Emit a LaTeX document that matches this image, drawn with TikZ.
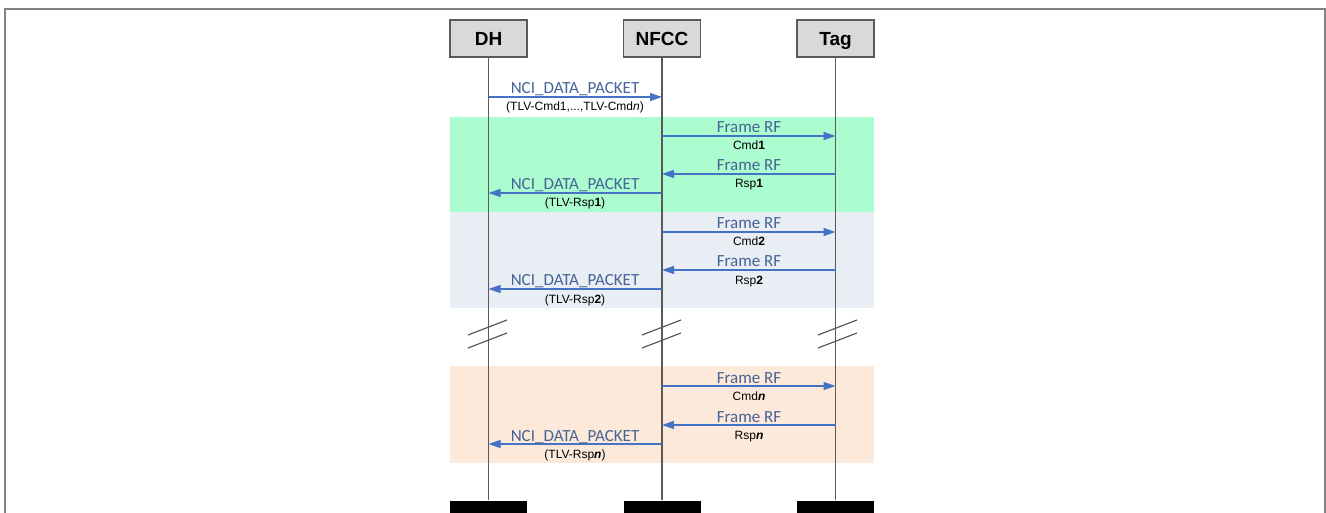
\documentclass[tikz,border=0pt]{standalone}
\usepackage{fontspec}
\setmainfont{Liberation Sans}
\newfontfamily\calibrifont{Carlito}
\usetikzlibrary{arrows.meta}
\definecolor{arrowblue}{RGB}{68,114,196}
\definecolor{lblblue}{RGB}{70,100,150}
\definecolor{lifegray}{RGB}{90,90,90}
\definecolor{headfill}{RGB}{217,217,217}
\definecolor{bandgreen}{RGB}{171,252,207}
\definecolor{bandgray}{RGB}{233,237,244}
\definecolor{bandorange}{RGB}{253,233,217}
\definecolor{framegray}{RGB}{130,130,130}
\tikzset{
  head/.style={draw=lifegray, line width=1.2pt, fill=headfill, minimum width=77pt, minimum height=37pt, inner sep=0pt, text height=13.5pt, text depth=0pt, font=\fontsize{19}{19}\selectfont\bfseries},
  endbar/.style={fill=black, minimum width=77pt, minimum height=13pt, inner sep=0pt},
  life/.style={draw=lifegray, line width=1.5pt},
  msg/.style={draw=arrowblue, line width=1.3pt, -{Triangle[length=12pt,width=8pt]}},
  toplbl/.style={anchor=base, text=lblblue, inner sep=0pt, font=\calibrifont\fontsize{17}{17}\selectfont},
  botlbl/.style={anchor=base, text=black, inner sep=0pt, font=\fontsize{12}{12}\selectfont},
  brk/.style={draw=lifegray, line width=1.2pt}
}
\begin{document}
\begin{tikzpicture}[x=1pt,y=-1pt]
\useasboundingbox (0,0) rectangle (1326,513);
% frame
\draw[framegray, line width=1.3pt] (5,520) -- (5,9) -- (1325,9) -- (1325,520);
% bands
\fill[bandgreen] (450,117) rectangle (874,212);
\fill[bandgray] (450,212) rectangle (874,308);
\fill[bandorange] (450,366) rectangle (874,463);
% heads
\node[head] (dh) at (488.5,38.5) {DH};
\node[head] (nfcc) at (662,38.5) {NFCC};
\node[head] (tag) at (835.5,38.5) {Tag};
% end bars
\node[endbar] (dhE) at (488.5,507) {};
\node[endbar] (nfccE) at (662,507) {};
\node[endbar] (tagE) at (835.5,507) {};
% lifelines
\draw[life] (dh.south) -- (dhE.north);
\draw[life] (nfcc.south) -- (nfccE.north);
\draw[life] (tag.south) -- (tagE.north);
% break marks
\draw[brk] (468,335) -- (507,320);
\draw[brk] (468,348) -- (507,333);
\draw[brk] (642,335) -- (681,320);
\draw[brk] (642,348) -- (681,333);
\draw[brk] (818,335) -- (857,320);
\draw[brk] (818,348) -- (857,333);
% first message
\draw[msg] (dh |- 0,97) -- (nfcc |- 0,97);
\node[toplbl] (m0a) at (575,94) {NCI\_DATA\_PACKET};
\node[botlbl] (m0b) at (575,111) {(TLV-Cmd1,...,TLV-Cmd\textit{n})};
% block 1
\draw[msg] (nfcc |- 0,136) -- (tag |- 0,136);
\node[toplbl] (c1a) at (749,133) {Frame RF};
\node[botlbl] (c1b) at (749,150) {Cmd\textbf{1}};
\draw[msg] (tag |- 0,174) -- (nfcc |- 0,174);
\node[toplbl] (r1a) at (749,171) {Frame RF};
\node[botlbl] (r1b) at (749,188) {Rsp\textbf{1}};
\draw[msg] (nfcc |- 0,193) -- (dh |- 0,193);
\node[toplbl] (d1a) at (575,190) {NCI\_DATA\_PACKET};
\node[botlbl] (d1b) at (575,207) {(TLV-Rsp\textbf{1})};
% block 2
\draw[msg] (nfcc |- 0,232) -- (tag |- 0,232);
\node[toplbl] (c2a) at (749,229) {Frame RF};
\node[botlbl] (c2b) at (749,246) {Cmd\textbf{2}};
\draw[msg] (tag |- 0,270) -- (nfcc |- 0,270);
\node[toplbl] (r2a) at (749,267) {Frame RF};
\node[botlbl] (r2b) at (749,284) {Rsp\textbf{2}};
\draw[msg] (nfcc |- 0,289) -- (dh |- 0,289);
\node[toplbl] (d2a) at (575,286) {NCI\_DATA\_PACKET};
\node[botlbl] (d2b) at (575,303) {(TLV-Rsp\textbf{2})};
% block n
\draw[msg] (nfcc |- 0,386) -- (tag |- 0,386);
\node[toplbl] (cna) at (749,383) {Frame RF};
\node[botlbl] (cnb) at (749,400) {Cmd\textbf{\textit{n}}};
\draw[msg] (tag |- 0,425) -- (nfcc |- 0,425);
\node[toplbl] (rna) at (749,422) {Frame RF};
\node[botlbl] (rnb) at (749,439) {Rsp\textbf{\textit{n}}};
\draw[msg] (nfcc |- 0,444) -- (dh |- 0,444);
\node[toplbl] (dna) at (575,441) {NCI\_DATA\_PACKET};
\node[botlbl] (dnb) at (575,458) {(TLV-Rsp\textbf{\textit{n}})};
\end{tikzpicture}
\end{document}
